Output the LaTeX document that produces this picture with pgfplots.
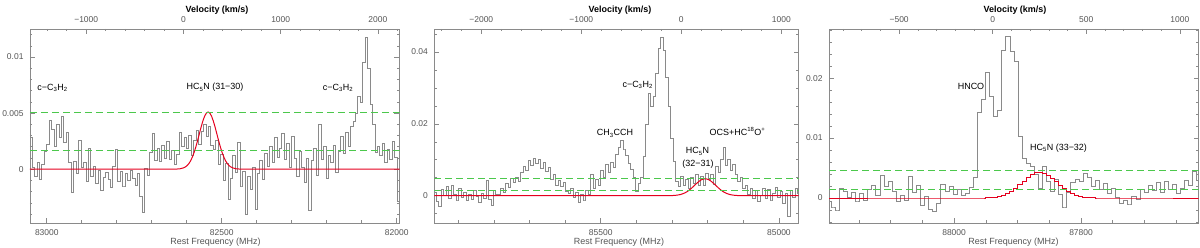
\documentclass[border=0pt]{standalone}
\usepackage{pgfplots}
\pgfplotsset{compat=1.18}
\usepackage{fontspec}
\setmainfont{Liberation Sans}
\definecolor{specc}{HTML}{8A8A8A}
\definecolor{frm}{HTML}{8A8A8A}
\definecolor{fitred}{HTML}{E5001E}
\definecolor{sigc}{HTML}{4CC84C}
\definecolor{tcol}{HTML}{555555}
\pgfplotsset{
  panel/.style={
    scale only axis, height=194bp, anchor=south west,
    x dir=reverse,
    axis line style={frm, line width=0.6bp},
    every tick/.style={frm, line width=0.6bp},
    major tick length=5bp, minor tick length=2.5bp,
    tick align=inside,
    xtick pos=left, ytick pos=both, yticklabel pos=left, xticklabel pos=left,
    tick label style={font=\fontsize{8.5}{10}\selectfont, text=tcol},
    xticklabel style={anchor=base},
    xticklabel shift=12bp,
    yticklabel shift=3bp,
    scaled ticks=false,
    clip=true,
  },
  velo/.style={
    scale only axis, height=194bp, anchor=south west,
    axis x line*=top, hide y axis, ymin=0, ymax=1,
    axis line style={frm, line width=0.6bp},
    every tick/.style={frm, line width=0.6bp},
    major tick length=5bp, minor tick length=2.5bp, tick align=inside,
    tick label style={font=\fontsize{8.5}{10}\selectfont, text=tcol},
    xticklabel style={anchor=base},
    xticklabel shift=6.3bp,
  },
  spec/.style={const plot mark mid, color=specc, line width=0.55bp, mark=none},
  fit/.style={color=fitred, line width=1bp, mark=none},
  stepfit/.style={const plot mark mid, color=fitred, line width=1bp, mark=none},
  sig/.style={color=sigc, line width=0.9bp, dash pattern=on 7bp off 4bp, mark=none},
}
\begin{document}
\begin{tikzpicture}
\useasboundingbox (0,0) rectangle (1200bp,248bp);
% ---------------- Panel 1 ----------------
\begin{axis}[panel, at={(30bp,25bp)}, width=369.5bp,
  xmin=81992, xmax=83048, ymin=-0.0048, ymax=0.0125,
  xtick={82000,82500,83000}, xticklabels={82000,82500,83000},
  minor xtick={82100,82200,82300,82400,82600,82700,82800,82900},
  ytick={0,0.005,0.01}, yticklabels={0,0.005,0.01},
  minor ytick={-0.004,-0.003,-0.002,-0.001,0.001,0.002,0.003,0.004,0.006,0.007,0.008,0.009,0.011,0.012}]
\addplot[spec] coordinates {
(83046,0.0028)(83039,0.0002)(83032,-0.0006)(83025,0.0006)(83018,-0.0009)(83011,0.0004)(83004,0.0016)(82997,0.0022)(82990,0.0044)(82983,0.0036)
(82976,0.0020)(82969,0.0040)(82962,0.0028)(82955,0.0047)(82948,0.0024)(82941,0.0033)(82934,0.0006)(82927,-0.0021)(82920,0.0007)(82913,-0.0004)
(82906,0.0026)(82899,0.0002)(82892,0.0006)(82885,-0.0011)(82878,0.0019)(82871,-0.0006)(82864,0.0003)(82857,-0.0013)(82850,-0.0001)(82843,-0.0019)
(82836,-0.0007)(82829,-0.0003)(82822,-0.0009)(82815,-0.0016)(82808,0.0003)(82801,0.0018)(82794,-0.0011)(82787,-0.0002)(82780,-0.0015)(82773,-0.0004)
(82766,-0.0010)(82759,-0.0001)(82752,-0.0008)(82745,-0.0014)(82738,-0.0004)(82731,-0.0024)(82724,-0.0038)(82717,0.0001)(82710,-0.0005)(82703,0.0015)
(82696,0.0032)(82689,0.0008)(82682,0.0019)(82675,0.0007)(82668,0.0021)(82661,0.0010)(82654,0.0025)(82647,0.0009)(82640,0.0017)(82633,0.0004)
(82626,0.0013)(82619,0.0033)(82612,0.0020)(82605,0.0028)(82598,0.0019)(82591,0.0030)(82584,0.0012)(82577,0.0026)(82570,0.0035)(82563,0.0022)
(82556,0.0034)(82549,0.0040)(82542,0.0029)(82535,0.0038)(82528,0.0021)(82521,0.0018)(82514,0.0026)(82507,0.0004)(82500,0.0013)(82493,-0.0010)
(82486,0.0005)(82479,-0.0027)(82472,-0.0008)(82465,0.0012)(82458,-0.0003)(82451,0.0024)(82444,-0.0015)(82437,-0.0002)(82430,-0.0040)(82423,-0.0006)
(82416,-0.0018)(82409,0.0002)(82402,-0.0036)(82395,-0.0004)(82388,0.0008)(82381,-0.0009)(82374,0.0014)(82367,0.0003)(82360,0.0020)(82353,0.0006)
(82346,0.0028)(82339,0.0011)(82332,0.0019)(82325,0.0032)(82318,0.0009)(82311,0.0023)(82304,0.0002)(82297,0.0029)(82290,0.0010)(82283,-0.0006)
(82276,0.0016)(82269,0.0002)(82262,-0.0012)(82255,0.0010)(82248,-0.0037)(82241,0.0008)(82234,0.0019)(82227,-0.0005)(82220,0.0040)(82213,0.0009)
(82206,0.0020)(82199,-0.0008)(82192,0.0012)(82185,0.0006)(82178,0.0021)(82171,-0.0003)(82164,0.0016)(82157,0.0029)(82150,0.0014)(82143,0.0033)
(82136,0.0020)(82129,0.0038)(82122,0.0043)(82115,0.0050)(82108,0.0065)(82101,0.0060)(82094,0.0095)(82087,0.0118)(82080,0.0090)(82073,0.0058)
(82066,0.0040)(82059,0.0015)(82052,0.0020)(82045,0.0012)(82038,0.0023)(82031,0.0006)(82024,0.0018)(82017,0.0009)(82010,0.0025)(82003,0.0011)
(81996,-0.0029)(81989,0.0015)};
\addplot[fit] coordinates {
(83048,0)(82639,0)(82629,0.00001)(82619,0.000037)(82609,0.000118)(82604,0.000197)(82599,0.00032)(82594,0.000498)(82589,0.00074)(82584,0.00108)(82579,0.00149)(82574,0.00199)(82569,0.00255)(82564,0.00315)(82559,0.00375)(82554,0.00429)(82549,0.00472)(82544,0.0050)(82539,0.0051)
(82534,0.0050)(82529,0.00472)(82524,0.00429)(82519,0.00375)(82514,0.00315)(82509,0.00255)(82504,0.00199)(82499,0.00149)(82494,0.00108)(82489,0.00074)(82484,0.000498)(82479,0.00032)(82474,0.000197)(82469,0.000118)(82459,0.000037)(82449,0.00001)(82439,0)(81992,0)};
\addplot[sig] coordinates {(83048,0.0051)(81992,0.0051)};
\addplot[sig] coordinates {(83048,0.0017)(81992,0.0017)};
\end{axis}
\begin{axis}[velo, at={(30bp,25bp)}, width=369.5bp,
  xmin=-1578, xmax=2222,
  xtick={-1000,0,1000,2000}, xticklabels={−1000,0,1000,2000},
  minor xtick={-1400,-1200,-800,-600,-400,-200,200,400,600,800,1200,1400,1600,1800,2200}]
\end{axis}
% ---------------- Panel 2 ----------------
\begin{axis}[panel, at={(434.3bp,25bp)}, width=364.2bp,
  xmin=84945, xmax=85967, ymin=-0.0076, ymax=0.0464,
  xtick={85000,85500}, xticklabels={85000,85500},
  minor xtick={85100,85200,85300,85400,85600,85700,85800,85900},
  ytick={0,0.02,0.04}, yticklabels={0,0.02,0.04},
  minor ytick={-0.005,0.005,0.01,0.015,0.025,0.03,0.035,0.045}]
\addplot[spec] coordinates {
(85966,0.0010)(85959,-0.0015)(85952,-0.0030)(85945,0.0018)(85938,0.0002)(85931,0.0025)(85924,-0.0008)(85917,0.0030)(85910,0.0005)(85903,-0.0012)
(85896,0.0022)(85889,-0.0005)(85882,0.0010)(85875,-0.0014)(85868,0.0004)(85861,-0.0009)(85854,0.0015)(85847,-0.0003)(85840,-0.0018)(85833,0.0007)
(85826,-0.0006)(85819,0.0042)(85812,-0.0010)(85805,-0.0028)(85798,0.0015)(85791,0.0003)(85784,0.0005)(85777,0.0022)(85770,0.0010)(85763,0.0035)
(85756,0.0024)(85749,0.0048)(85742,0.0036)(85735,0.0052)(85728,0.0040)(85721,0.0065)(85714,0.0082)(85707,0.0070)(85700,0.0098)(85693,0.0085)
(85686,0.0104)(85679,0.0090)(85672,0.0102)(85665,0.0076)(85658,0.0093)(85651,0.0068)(85644,0.0080)(85637,0.0045)(85630,0.0060)(85623,0.0028)
(85616,0.0044)(85609,0.0025)(85602,0.0038)(85595,0.0012)(85588,0.0008)(85581,0.0020)(85574,-0.0005)(85567,0.0010)(85560,-0.0018)(85553,0.0005)
(85546,-0.0012)(85539,0.0015)(85532,0.0003)(85525,0.0060)(85518,0.0022)(85511,0.0045)(85504,0.0030)(85497,0.0070)(85490,0.0052)(85483,0.0088)
(85476,0.0065)(85469,0.0092)(85462,0.0080)(85455,0.0115)(85448,0.0135)(85441,0.0153)(85434,0.0130)(85427,0.0112)(85420,0.0090)(85413,0.0074)
(85406,0.0050)(85399,0.0012)(85392,0.0035)(85385,0.0050)(85378,0.0110)(85371,0.0200)(85364,0.0285)(85357,0.0250)(85350,0.0278)(85343,0.0340)
(85336,0.0410)(85329,0.0440)(85322,0.0405)(85315,0.0330)(85308,0.0250)(85301,0.0160)(85294,0.0095)(85287,0.0040)(85280,0.0025)(85273,0.0055)
(85266,0.0030)(85259,0.0045)(85252,0.0020)(85245,0.0050)(85238,0.0035)(85231,0.0060)(85224,0.0028)(85217,0.0055)(85210,0.0030)(85203,0.0062)
(85196,0.0045)(85189,0.0060)(85182,0.0032)(85175,0.0082)(85168,0.0065)(85161,0.0100)(85154,0.0134)(85147,0.0085)(85140,0.0100)(85133,0.0072)
(85126,0.0088)(85119,0.0060)(85112,0.0040)(85105,0.0052)(85098,0.0020)(85091,0.0030)(85084,0.0005)(85077,0.0022)(85070,-0.0008)(85063,0.0015)
(85056,-0.0015)(85049,0.0002)(85042,0.0020)(85035,-0.0006)(85028,0.0018)(85021,-0.0012)(85014,0.0008)(85007,0.0024)(85000,-0.0005)(84993,0.0012)
(84986,-0.0020)(84979,0.0006)(84972,-0.0058)(84965,0.0015)(84958,-0.0004)(84951,0.0022)(84944,0.0008)};
\addplot[fit] coordinates {
(85967,0)(85317,0)(85307,0.0000183)(85297,0.0000522)(85287,0.000134)(85277,0.000309)(85267,0.000636)(85262,0.000874)(85257,0.00117)(85252,0.00153)(85247,0.00193)(85242,0.00238)(85237,0.00285)(85232,0.00332)(85227,0.00376)(85222,0.00415)(85217,0.00445)(85212,0.00464)(85207,0.0047)
(85202,0.00464)(85197,0.00445)(85192,0.00415)(85187,0.00376)(85182,0.00332)(85177,0.00285)(85172,0.00238)(85167,0.00193)(85162,0.00153)(85157,0.00117)(85152,0.000874)(85147,0.000636)(85137,0.000309)(85127,0.000134)(85117,0.0000522)(85107,0.0000183)(85097,0)(84945,0)};
\addplot[sig] coordinates {(85967,0.0047)(84945,0.0047)};
\addplot[sig] coordinates {(85967,0.0015)(84945,0.0015)};
\end{axis}
\begin{axis}[velo, at={(434.3bp,25bp)}, width=364.2bp,
  xmin=-2470, xmax=1172,
  xtick={-2000,-1000,0,1000}, xticklabels={−2000,−1000,0,1000},
  minor xtick={-2400,-2200,-1800,-1600,-1400,-1200,-800,-600,-400,-200,200,400,600,800}]
\end{axis}
% ---------------- Panel 3 ----------------
\begin{axis}[panel, at={(829bp,25bp)}, width=369.5bp,
  xmin=87615, xmax=88197, ymin=-0.00417, ymax=0.0282,
  xtick={87800,88000}, xticklabels={87800,88000},
  minor xtick={87650,87700,87750,87850,87900,87950,88050,88100,88150},
  ytick={0,0.01,0.02}, yticklabels={0,0.01,0.02},
  minor ytick={-0.004,-0.002,0.002,0.004,0.006,0.008,0.012,0.014,0.016,0.018,0.022,0.024,0.026,0.028}]
\addplot[spec] coordinates {
(88197.0,-0.0005)(88190.6,-0.0015)(88184.2,-0.0020)(88177.8,0.0017)(88171.4,0.0012)(88165.0,0.0002)(88158.6,0.0010)(88152.2,-0.0005)(88145.8,0.0008)(88139.4,-0.0003)
(88133.0,0.0015)(88126.6,0.0022)(88120.2,0.0005)(88113.8,0.0038)(88107.4,0.0020)(88101.0,0.0028)(88094.6,0.0012)(88088.2,-0.0006)(88081.8,0.0004)(88075.4,-0.0003)
(88069.0,0.0036)(88062.6,0.0010)(88056.2,0.0022)(88049.8,-0.0012)(88043.4,0.0003)(88037.0,-0.0018)(88030.6,-0.0022)(88024.2,-0.0008)(88017.8,0.0023)(88011.4,0.0012)
(88005.0,0.0020)(87998.6,0.0006)(87992.2,0.0014)(87985.8,0.0005)(87979.4,0.0008)(87973.0,0.0018)(87966.6,0.0035)(87960.2,0.0143)(87953.8,0.0165)(87947.4,0.0210)
(87941.0,0.0169)(87934.6,0.0136)(87928.2,0.0147)(87921.8,0.0247)(87915.4,0.0270)(87909.0,0.0244)(87902.6,0.0228)(87896.2,0.0103)(87889.8,0.0067)(87883.4,0.0058)
(87877.0,0.0053)(87870.6,0.0039)(87864.2,0.0017)(87857.8,0.0053)(87851.4,0.0028)(87845.0,0.0011)(87838.6,0.0031)(87832.2,0.0006)(87825.8,-0.0015)(87819.4,0.0010)
(87813.0,0.0026)(87806.6,0.0032)(87800.2,0.0028)(87793.8,0.0042)(87787.4,0.0035)(87781.0,0.0020)(87774.6,0.0029)(87768.2,0.0014)(87761.8,0.0025)(87755.4,0.0008)
(87749.0,0.0016)(87742.6,0.0002)(87736.2,-0.0009)(87729.8,-0.0004)(87723.4,-0.0010)(87717.0,0.0003)(87710.6,-0.0002)(87704.2,0.0015)(87697.8,0.0009)(87691.4,0.0022)
(87685.0,0.0013)(87678.6,0.0026)(87672.2,0.0009)(87665.8,0.0028)(87659.4,0.0014)(87653.0,0.0023)(87646.6,0.0008)(87640.2,0.0017)(87633.8,0.0030)(87627.4,0.0021)
(87621.0,0.0044)(87614.6,0.0030)};
\addplot[stepfit] coordinates {
(88197.0,0)(87953.8,0)(87947.4,0.00004)(87941.0,0.00008)(87934.6,0.00015)(87928.2,0.00027)(87921.8,0.00046)(87915.4,0.00075)(87909.0,0.00113)(87902.6,0.00161)(87896.2,0.00219)(87889.8,0.00280)(87883.4,0.00339)(87877.0,0.00388)(87870.6,0.00420)(87864.2,0.00430)
(87857.8,0.00416)(87851.4,0.00380)(87845.0,0.00329)(87838.6,0.00268)(87832.2,0.00207)(87825.8,0.00152)(87819.4,0.00105)(87813.0,0.00068)(87806.6,0.00042)(87800.2,0.00025)(87793.8,0.000135)(87787.4,0.00007)(87781.0,0.000035)(87774.6,0)(87614.6,0)};
\addplot[sig] coordinates {(88197,0.00455)(87615,0.00455)};
\addplot[sig] coordinates {(88197,0.0015)(87615,0.0015)};
\end{axis}
\begin{axis}[velo, at={(829bp,25bp)}, width=369.5bp,
  xmin=-875, xmax=1100,
  xtick={-500,0,500,1000}, xticklabels={−500,0,500,1000},
  minor xtick={-800,-700,-600,-400,-300,-200,-100,100,200,300,400,600,700,800,900,1100}]
\end{axis}
% ---------------- Labels ----------------
\begin{scope}[every node/.style={font=\fontsize{9}{10}\selectfont, anchor=base, inner sep=0pt}]
\node at (217bp,235.3bp) {\bfseries Velocity (km/s)};
\node at (620bp,235.3bp) {\bfseries Velocity (km/s)};
\node at (1015bp,235.3bp) {\bfseries Velocity (km/s)};
\node[text=tcol] at (215.5bp,3.5bp) {Rest Frequency (MHz)};
\node[text=tcol] at (619bp,3.5bp) {Rest Frequency (MHz)};
\node[text=tcol] at (1013.5bp,3.5bp) {Rest Frequency (MHz)};
\node at (52.5bp,157.3bp) {c−C\textsubscript{3}H\textsubscript{2}};
\node at (215bp,158bp) {HC\textsubscript{5}N (31−30)};
\node at (338bp,157.3bp) {c−C\textsubscript{3}H\textsubscript{2}};
\node at (637.7bp,160.7bp) {c−C\textsubscript{3}H\textsubscript{2}};
\node at (615bp,112bp) {CH\textsubscript{3}CCH};
\node at (697.5bp,94bp) {HC\textsubscript{5}N};
\node at (698bp,81.5bp) {(32−31)};
\node at (737.5bp,112.3bp) {OCS+HC\textsuperscript{18}O\textsuperscript{+}};
\node at (971bp,158.7bp) {HNCO};
\node at (1058.5bp,97.3bp) {HC\textsubscript{5}N (33−32)};
\end{scope}
\end{tikzpicture}
\end{document}
